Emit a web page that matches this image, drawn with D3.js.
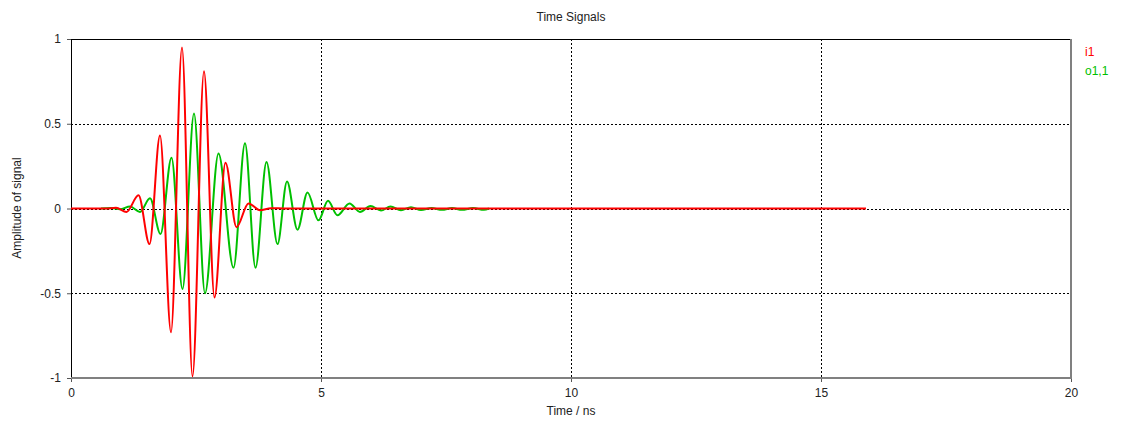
<!DOCTYPE html>
<html>
<head>
<meta charset="utf-8">
<script src="https://cdn.jsdelivr.net/npm/d3@7"></script>
<style>
  body { margin: 0; background: #fff; }
  text { font-family: "Liberation Sans", Arial, sans-serif; font-size: 12px; fill: #222; }
</style>
</head>
<body>
<script>
// series (time in ns, amplitude)
var i1Time = [0, 0.7, 0.9, 1.11, 1.35, 1.57, 1.78, 2.0, 2.22, 2.43, 2.66, 2.87, 3.09, 3.31, 3.55, 3.78, 4.0, 4.3, 15.9];
var i1Amp  = [0, 0, 0.004, -0.02, 0.078, -0.21, 0.43, -0.73, 0.95, -0.99, 0.81, -0.525, 0.27, -0.11, 0.03, -0.01, 0.002, 0, 0];

var o11Time = [0.6, 0.8, 0.98, 1.18, 1.38, 1.58, 1.79, 2.01, 2.23, 2.46, 2.68, 2.95, 3.25, 3.48, 3.69, 3.91, 4.13, 4.32, 4.53, 4.73, 4.95, 5.14, 5.33, 5.57, 5.78, 5.99, 6.2, 6.39, 6.6, 6.8, 7.0, 7.21, 7.42, 7.62, 7.82, 8.04, 8.26, 8.36];
var o11Amp  = [0, 0.003, -0.004, 0.012, -0.02, 0.06, -0.15, 0.30, -0.475, 0.56, -0.50, 0.325, -0.35, 0.385, -0.35, 0.275, -0.21, 0.16, -0.125, 0.095, -0.07, 0.045, -0.04, 0.03, -0.02, 0.015, -0.012, 0.012, -0.01, 0.008, -0.009, 0.003, -0.008, 0.003, -0.008, 0.003, -0.008, 0];

var seriesNames = ["i1", "o1,1"];
var seriesColors = ["#ff0000", "#00c000"];
var xTicks = [0, 5, 10, 15, 20];
var yTicks = [-1, -0.5, 0, 0.5, 1];

var W = 1123, H = 421;
var pLeft = 71, pRight = 1071, pTop = 39, pBottom = 378;

var svg = d3.select("body").append("svg")
    .attr("width", W)
    .attr("height", H);

var x = d3.scaleLinear().domain([0, 20]).range([pLeft, pRight]);
var y = d3.scaleLinear().domain([-1, 1]).range([pBottom, pTop]);

// grid
var g = svg.append("g");
g.selectAll(".vgrid")
    .data(xTicks.filter(function (d) { return d > 0 && d < 20; }))
    .enter().append("line")
    .attr("x1", function (d) { return Math.round(x(d)) + 0.5; })
    .attr("x2", function (d) { return Math.round(x(d)) + 0.5; })
    .attr("y1", pTop)
    .attr("y2", pBottom)
    .attr("stroke", "#000")
    .attr("stroke-dasharray", "2,2");
g.selectAll(".hgrid")
    .data(yTicks.filter(function (d) { return d > -1 && d < 1; }))
    .enter().append("line")
    .attr("x1", pLeft)
    .attr("x2", pRight)
    .attr("y1", function (d) { return Math.round(y(d)) + 0.5; })
    .attr("y2", function (d) { return Math.round(y(d)) + 0.5; })
    .attr("stroke", "#000")
    .attr("stroke-dasharray", "2,2");

// axes
var xAxis = d3.axisBottom(x).tickValues(xTicks).tickSize(4).tickPadding(6).tickFormat(d3.format("d"));
var yAxis = d3.axisLeft(y).tickValues(yTicks).tickSize(4).tickPadding(6).tickFormat(function (d) { return String(d); });

var xa = svg.append("g").attr("transform", "translate(0," + pBottom + ")").call(xAxis);
var ya = svg.append("g").attr("transform", "translate(" + pLeft + ",0)").call(yAxis);
[xa, ya].forEach(function (a) {
    a.select(".domain").remove();
    a.selectAll("text").attr("font-family", "Liberation Sans, Arial, sans-serif").attr("font-size", 12).attr("fill", "#222");
    a.selectAll(".tick line").attr("stroke", "#555");
});

// frame
svg.append("line").attr("x1", pLeft).attr("x2", pRight).attr("y1", pTop + 0.5).attr("y2", pTop + 0.5).attr("stroke", "#000");
svg.append("line").attr("x1", pLeft + 0.5).attr("x2", pLeft + 0.5).attr("y1", pTop).attr("y2", pBottom).attr("stroke", "#000");
svg.append("line").attr("x1", pRight).attr("x2", pRight).attr("y1", pTop).attr("y2", pBottom + 1).attr("stroke", "#808080").attr("stroke-width", 2);
svg.append("line").attr("x1", pLeft).attr("x2", pRight + 1).attr("y1", pBottom).attr("y2", pBottom).attr("stroke", "#808080").attr("stroke-width", 2);

// signals
var line = d3.line()
    .x(function (d) { return x(d[0]); })
    .y(function (d) { return y(d[1]); })
    .curve(d3.curveMonotoneX);

var data = [d3.zip(i1Time, i1Amp), d3.zip(o11Time, o11Amp)];

// draw green first so red sits on top
[1, 0].forEach(function (i) {
    svg.append("path")
        .datum(data[i])
        .attr("d", line)
        .attr("fill", "none")
        .attr("stroke", seriesColors[i])
        .attr("stroke-width", 2)
        .attr("stroke-linejoin", "round");
});

// legend
svg.selectAll(".legend")
    .data(seriesNames)
    .enter().append("text")
    .attr("x", 1085)
    .attr("y", function (d, i) { return 56 + i * 19; })
    .style("fill", function (d, i) { return seriesColors[i]; })
    .text(function (d) { return d; });

// titles
svg.append("text")
    .attr("x", 571).attr("y", 21)
    .attr("text-anchor", "middle")
    .text("Time Signals");
svg.append("text")
    .attr("x", 571).attr("y", 415)
    .attr("text-anchor", "middle")
    .text("Time / ns");
svg.append("text")
    .attr("transform", "translate(21," + 208 + ") rotate(-90)")
    .attr("text-anchor", "middle")
    .text("Amplitude of signal");
</script>
</body>
</html>
